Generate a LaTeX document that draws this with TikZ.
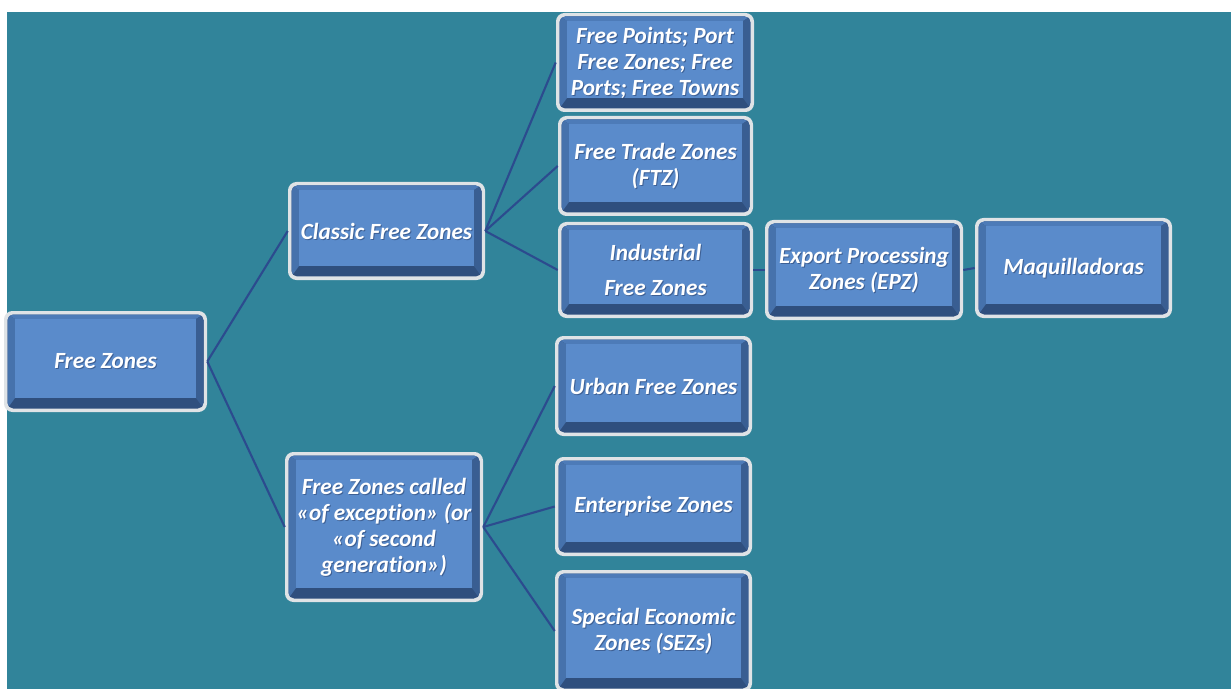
\documentclass[tikz,border=0pt]{standalone}
\usepackage{fontspec}
\setmainfont[Ligatures=NoCommon]{Carlito}

\definecolor{bgteal}{HTML}{31849A}
\definecolor{rimc}{HTML}{DFE3E6}
\definecolor{panelc}{HTML}{5A8BCB}
\definecolor{bvtop}{HTML}{4D7BB8}
\definecolor{bvleft}{HTML}{4672AC}
\definecolor{bvright}{HTML}{395E92}
\definecolor{bvbot}{HTML}{2F4F7E}
\definecolor{linkc}{HTML}{2C4B8E}
\definecolor{shadowc}{HTML}{2A4370}

\tikzset{
  zonetext/.style={align=center,
    font=\fontsize{16.5}{18.5}\selectfont\bfseries\itshape},
  link/.style={draw=linkc, line width=1.5pt}
}

% bevelled box: name, x1, y1, x2, y2, label
\newcommand{\zonebox}[6]{%
  \fill[rimc, rounded corners=6pt] (#2,#3) rectangle (#4,#5);
  \begin{scope}
    \clip[rounded corners=4pt] ({#2+3.5},{#3+3.5}) rectangle ({#4-3.5},{#5-3.5});
    \fill[bvbot] ({#2+3},{#3+3}) rectangle ({#4-3},{#5-3});
    \fill[bvtop] ({#2+3},{#3+3}) -- ({#4-3},{#3+3}) -- ({#4-11},{#3+8}) -- ({#2+11},{#3+8}) -- cycle;
    \fill[bvleft] ({#2+3},{#3+3}) -- ({#2+11},{#3+8}) -- ({#2+11},{#5-14}) -- ({#2+3},{#5-3}) -- cycle;
    \fill[bvright] ({#4-3},{#3+3}) -- ({#4-11},{#3+8}) -- ({#4-11},{#5-14}) -- ({#4-3},{#5-3}) -- cycle;
    \fill[panelc] ({#2+11},{#3+8}) rectangle ({#4-11},{#5-14});
  \end{scope}
  \node[zonetext, text=shadowc, opacity=0.6, inner sep=0pt]
    at ({(#2+#4)/2+1},{(#3+#5)/2+1}) {#6};
  \node[zonetext, text=white, inner sep=0pt,
    minimum width={(#4-#2)*0.025cm}, minimum height={(#5-#3)*0.025cm}]
    (#1) at ({(#2+#4)/2},{(#3+#5)/2}) {#6};
}

\begin{document}
\begin{tikzpicture}[x=0.025cm, y=-0.025cm]
  \useasboundingbox (0,0) rectangle (1231,689);
  \clip (0,0) rectangle (1231,689);
  \fill[white] (0,0) rectangle (1231,689);
  \fill[bgteal] (7,12) rectangle (1231,689);

  % root and first level
  \zonebox{fz}{4}{311}{207}{412}{Free Zones}
  \zonebox{cfz}{288}{182}{485}{280}{Classic Free Zones}
  \zonebox{exc}{285}{452}{483}{602}{Free Zones called\\«of exception» (or\\«of second\\generation»)}

  % classic branch
  \zonebox{fpp}{556}{13}{754}{112}{Free Points; Port\\Free Zones; Free\\Ports; Free Towns}
  \zonebox{ftz}{558}{116}{753}{216}{Free Trade Zones\\(FTZ)}
  \zonebox{ind}{558}{222}{753}{318}{Industrial\\[6.5pt]Free Zones}
  \zonebox{epz}{765}{220}{963}{320}{Export Processing\\Zones (EPZ)}
  \zonebox{maq}{975}{218}{1172}{318}{Maquilladoras}

  % exception branch
  \zonebox{ufz}{555}{336}{752}{436}{Urban Free Zones}
  \zonebox{ent}{555}{457}{752}{556}{Enterprise Zones}
  \zonebox{sez}{555}{570}{752}{692}{Special Economic\\Zones (SEZs)}

  % connectors
  \draw[link] (fz.east) -- (cfz.west);
  \draw[link] (fz.east) -- (exc.west);
  \draw[link] (cfz.east) -- (fpp.west);
  \draw[link] (cfz.east) -- (ftz.west);
  \draw[link] (cfz.east) -- (ind.west);
  \draw[link] (ind.east) -- (epz.west);
  \draw[link] (epz.east) -- (maq.west);
  \draw[link] (exc.east) -- (ufz.west);
  \draw[link] (exc.east) -- (ent.west);
  \draw[link] (exc.east) -- (sez.west);
\end{tikzpicture}
\end{document}
